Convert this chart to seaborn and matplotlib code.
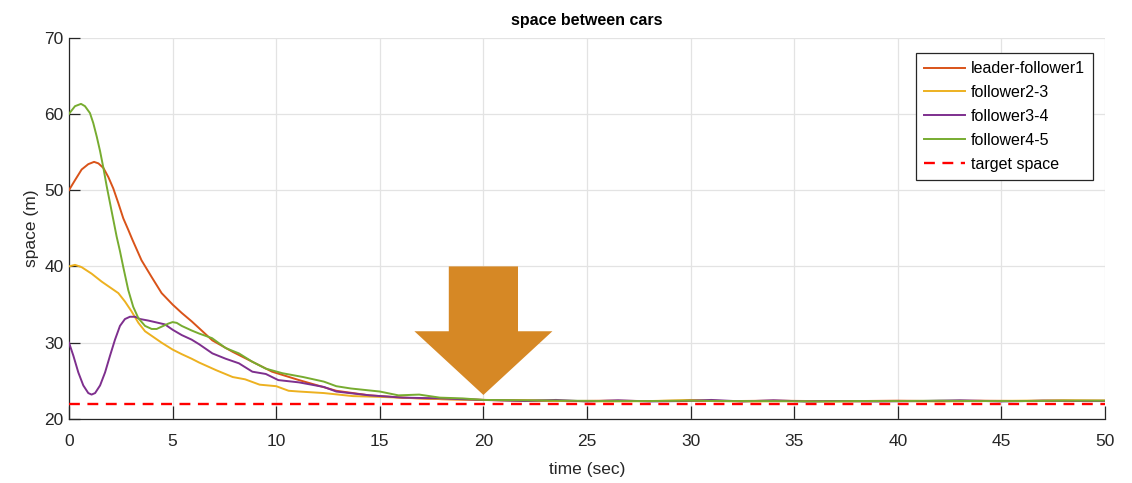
import matplotlib
matplotlib.use("Agg")
import matplotlib.pyplot as plt
from matplotlib.patches import Polygon
import seaborn as sns
import pandas as pd
import numpy as np

# ---------------- data ----------------
t_lf1 = [0, 0.29, 0.61, 0.93, 1.21, 1.42, 1.66, 1.9, 2.14, 2.38, 2.62, 2.86, 3.06, 3.5, 3.99,
         4.47, 5.0, 5.44, 5.92, 6.28, 6.92, 7.9, 8.85, 9.8, 11.1, 12.9, 14.5, 16.1, 18, 20,
         22, 24, 26, 28, 30, 32, 34, 36, 38, 40, 42, 44, 46, 48, 50]
v_lf1 = [50, 51.3, 52.7, 53.4, 53.7, 53.5, 52.9, 51.7, 50.2, 48.3, 46.3, 44.8, 43.5, 40.8, 38.6,
         36.5, 35.0, 33.9, 32.8, 31.9, 30.3, 28.8, 27.5, 26.2, 25.1, 23.7, 23.1, 22.8, 22.6, 22.5,
         22.45, 22.35, 22.4, 22.35, 22.4, 22.35, 22.4, 22.35, 22.35, 22.4, 22.35, 22.4, 22.35, 22.4, 22.4]

t_f23 = [0, 0.29, 0.61, 1.09, 1.58, 2.06, 2.38, 2.7, 3.02, 3.35, 3.67, 3.99, 4.47, 5.0, 5.44,
         5.92, 6.28, 7.1, 7.9, 8.5, 9.2, 10.0, 10.6, 11.1, 12.3, 13.7, 15, 16.9, 18, 20, 22,
         24, 26, 28, 29.5, 30, 31, 33, 35, 37, 40, 42, 44, 46, 48, 50]
v_f23 = [40, 40.2, 39.9, 39.05, 38.0, 37.1, 36.5, 35.4, 34.1, 32.6, 31.5, 30.9, 30.0, 29.1, 28.5,
         27.9, 27.4, 26.4, 25.5, 25.2, 24.5, 24.3, 23.7, 23.6, 23.4, 23.0, 22.9, 22.7, 22.6, 22.5, 22.4,
         22.35, 22.3, 22.35, 22.45, 22.5, 22.35, 22.3, 22.35, 22.3, 22.35, 22.3, 22.35, 22.4, 22.45, 22.4]

t_f34 = [0, 0.21, 0.45, 0.69, 0.93, 1.09, 1.26, 1.5, 1.74, 1.98, 2.22, 2.46, 2.7, 2.94, 3.19,
         3.43, 3.83, 4.31, 4.63, 5.0, 5.44, 5.92, 6.28, 6.92, 7.56, 8.2, 8.85, 9.5, 10.1, 11.1,
         12.3, 12.9, 14.5, 16.1, 17.9, 20, 22, 23.5, 25, 26.5, 28, 29.5, 31, 32.5, 34, 35.5,
         37, 39, 41, 43, 45, 47, 49, 50]
v_f34 = [30, 28.3, 26.1, 24.4, 23.4, 23.2, 23.4, 24.4, 26.1, 28.3, 30.4, 32.2, 33.1, 33.4, 33.4,
         33.1, 32.9, 32.6, 32.4, 31.7, 31.0, 30.4, 29.8, 28.6, 27.9, 27.3, 26.2, 25.9, 25.1, 24.8,
         24.2, 23.6, 23.1, 22.8, 22.7, 22.5, 22.35, 22.5, 22.3, 22.45, 22.3, 22.35, 22.5, 22.3, 22.45, 22.3,
         22.35, 22.3, 22.35, 22.45, 22.3, 22.4, 22.35, 22.35]

t_f45 = [0, 0.29, 0.58, 0.77, 1.01, 1.17, 1.34, 1.5, 1.66, 1.82, 1.98, 2.14, 2.3, 2.46, 2.62,
         2.86, 3.1, 3.35, 3.67, 3.99, 4.23, 4.47, 4.79, 5.0, 5.2, 5.44, 5.92, 6.28, 6.9, 7.56,
         8.2, 8.85, 9.5, 10.3, 11.3, 12.3, 12.9, 13.6, 15, 15.9, 16.9, 17.9, 19, 20, 22, 24,
         26, 28, 30, 32, 34, 36, 38, 40, 42, 44, 46, 48, 50]
v_f45 = [60, 61.0, 61.3, 61.0, 60.1, 58.8, 57.0, 55.1, 52.9, 50.5, 48.3, 46.1, 43.9, 42.0, 39.9,
         36.9, 34.7, 33.2, 32.2, 31.8, 31.8, 32.1, 32.5, 32.7, 32.6, 32.2, 31.6, 31.2, 30.6, 29.3,
         28.6, 27.5, 26.6, 26.0, 25.5, 24.9, 24.3, 24.0, 23.6, 23.1, 23.2, 22.8, 22.7, 22.5, 22.45, 22.4,
         22.35, 22.35, 22.4, 22.35, 22.35, 22.3, 22.35, 22.35, 22.4, 22.35, 22.35, 22.4, 22.4]

t_target = [0, 50]
v_target = [22, 22]

series_names = ["leader-follower1", "follower2-3", "follower3-4", "follower4-5"]
series_colors = ["#D95319", "#EDB120", "#7E2F8E", "#77AC30"]
target_name = "target space"

x_ticks = [0, 5, 10, 15, 20, 25, 30, 35, 40, 45, 50]
y_ticks = [20, 30, 40, 50, 60, 70]

# arrow annotation geometry (data units)
arrow_center = 20.0
arrow_shaft_half = 1.67
arrow_head_half = 3.33
arrow_top = 40.0
arrow_neck = 31.5
arrow_tip = 23.15
arrow_color = "#D68825"

# ---------------- style ----------------
plt.rcParams['font.family'] = ['Liberation Sans', 'DejaVu Sans']
fs = 12.5
fs_leg = 11.5

df = pd.concat([
    pd.DataFrame({"t": t, "v": v, "series": n})
    for t, v, n in zip([t_lf1, t_f23, t_f34, t_f45], [v_lf1, v_f23, v_f34, v_f45], series_names)
], ignore_index=True)
df_target = pd.DataFrame({"t": t_target, "v": v_target, "series": target_name})

fig = plt.figure(figsize=(11.32, 4.83), dpi=100)
ax = fig.add_axes([69 / 1132, 1 - 419 / 483, 1036 / 1132, (419 - 37.5) / 483])

sns.lineplot(data=df, x="t", y="v", hue="series", hue_order=series_names,
             palette=dict(zip(series_names, series_colors)), estimator=None, sort=False,
             linewidth=1.4, ax=ax, legend=False, zorder=3)
sns.lineplot(data=df_target, x="t", y="v", color="#FF0000", linewidth=1.7,
             ax=ax, legend=False, zorder=4)
ax.lines[-1].set_dashes((4.6, 3.2))
for ln in ax.lines:
    ln.set_solid_joinstyle('round')

# arrow
xs = [arrow_center - arrow_shaft_half, arrow_center + arrow_shaft_half,
      arrow_center + arrow_shaft_half, arrow_center + arrow_head_half,
      arrow_center, arrow_center - arrow_head_half, arrow_center - arrow_shaft_half]
ys = [arrow_top, arrow_top, arrow_neck, arrow_neck, arrow_tip, arrow_neck, arrow_neck]
ax.add_patch(Polygon(np.column_stack([xs, ys]), closed=True, facecolor=arrow_color,
                     edgecolor='none', zorder=5))

ax.set_xlim(0, 50)
ax.set_ylim(20, 70)
ax.set_xticks(x_ticks)
ax.set_yticks(y_ticks)
ax.grid(True, color="#e3e3e3", linewidth=0.9, zorder=0)
ax.set_axisbelow(True)
for s in ["top", "right"]:
    ax.spines[s].set_visible(False)
for s in ["left", "bottom"]:
    ax.spines[s].set_color("#262626")
    ax.spines[s].set_linewidth(0.9)
ax.tick_params(axis='x', direction='in', length=9.5, width=0.9, color="#262626",
               labelsize=fs, labelcolor="#262626", pad=11)
ax.tick_params(axis='y', direction='in', length=7.7, width=0.9, color="#262626",
               labelsize=fs, labelcolor="#262626", pad=4)

ax.set_xlabel("time (sec)", fontsize=fs, color="#262626", labelpad=9)
ax.set_ylabel("space (m)", fontsize=fs, color="#262626", labelpad=4)
ax.set_title("space between cars", fontsize=11.5, fontweight='bold',
             color="black", pad=9)

handles = ax.lines[:4] + [ax.lines[-1]]
leg = ax.legend(handles, series_names + [target_name], loc='upper right',
                bbox_to_anchor=(0.9884, 0.959), borderaxespad=0, fontsize=fs_leg,
                frameon=True, fancybox=False, framealpha=1, edgecolor="#262626",
                handlelength=2.6, handletextpad=0.35, labelspacing=0.56, borderpad=0.5)
leg.get_frame().set_linewidth(0.9)
leg.set_zorder(10)

fig.savefig("out.png", dpi=100)
